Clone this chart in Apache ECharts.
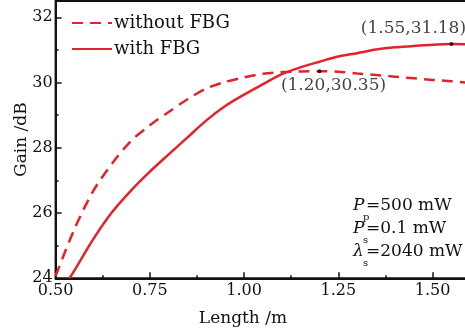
<!DOCTYPE html>
<html>
<head>
<meta charset="utf-8">
<script src="https://cdn.jsdelivr.net/npm/echarts@6/dist/echarts.min.js"></script>
<style>
  html, body { margin: 0; padding: 0; background: #fff; }
  #chart { width: 465px; height: 332px; }
</style>
</head>
<body>
<div id="chart"></div>
<script>
// Fibre length (m) and simulated gain (dB)
const lengthWithout = [0.50, 0.55, 0.60, 0.65, 0.70, 0.75, 0.80, 0.85, 0.90, 0.95, 1.00, 1.05, 1.10, 1.15, 1.20, 1.25, 1.30, 1.35, 1.40, 1.45, 1.50, 1.55, 1.60];
const gainWithout   = [24.07, 25.51, 26.68, 27.52, 28.21, 28.69, 29.10, 29.49, 29.82, 30.02, 30.16, 30.27, 30.32, 30.34, 30.35, 30.33, 30.28, 30.23, 30.18, 30.13, 30.08, 30.04, 29.99];

const lengthWith = [0.537, 0.55, 0.60, 0.65, 0.70, 0.75, 0.80, 0.85, 0.90, 0.95, 1.00, 1.05, 1.10, 1.15, 1.20, 1.25, 1.30, 1.35, 1.40, 1.45, 1.50, 1.55, 1.60];
const gainWith   = [24.00, 24.24, 25.20, 26.03, 26.69, 27.27, 27.80, 28.32, 28.84, 29.28, 29.63, 29.95, 30.26, 30.47, 30.64, 30.80, 30.90, 31.01, 31.08, 31.12, 31.16, 31.18, 31.17];

// Marked optimum points
const peakLength = [1.20, 1.55];
const peakGain   = [30.35, 31.18];

const xTicks = [0.50, 0.75, 1.00, 1.25, 1.50];
const yTicks = [24, 26, 28, 30, 32];

const seriesNames = ['without FBG', 'with FBG'];

const FONT = 'DejaVu Serif';
const RED = '#e3232b';
const INK = '#111';

const pairs = (xs, ys) => xs.map((x, i) => [x, ys[i]]);

// label placement for each marked point: below-right, then above-left
const labelPlacement = [
  { position: 'bottom', offset: [14, -1] },
  { position: 'top', offset: [-38, 0] }
];
const peakItems = peakLength.map((x, i) => ({
  value: [x, peakGain[i]],
  label: Object.assign({
    show: true,
    color: INK,
    fontFamily: FONT,
    fontSize: 17,
    formatter: '(' + x.toFixed(2) + ',' + peakGain[i].toFixed(2) + ')'
  }, labelPlacement[i])
}));

const chart = echarts.init(document.getElementById('chart'), null, { renderer: 'canvas' });

chart.setOption({
  animation: false,
  textStyle: { fontFamily: FONT, color: INK },
  grid: {
    left: 55.6, top: 1, width: 414.7, height: 277.3,
    outerBoundsMode: 'none',
    show: true, borderColor: INK, borderWidth: 2
  },
  legend: {
    orient: 'vertical',
    left: 66, top: 9,
    itemWidth: 40, itemHeight: 14, itemGap: 8,
    itemStyle: { opacity: 0 },
    textStyle: { fontFamily: FONT, fontSize: 18, color: INK, padding: [0, 0, 0, -3] },
    data: seriesNames
  },
  xAxis: {
    type: 'value',
    min: xTicks[0], max: 1.60, interval: 0.25,
    name: 'Length /m', nameLocation: 'middle', nameGap: 32,
    nameMoveOverlap: false,
    nameTextStyle: { fontFamily: FONT, fontSize: 17, color: INK, padding: [0, 40, 0, 0] },
    axisLine: { lineStyle: { color: INK, width: 2 } },
    axisTick: { inside: true, length: 6, lineStyle: { color: INK, width: 1.5 } },
    minorTick: { show: true, splitNumber: 2, length: 3, lineStyle: { color: INK, width: 1.5 } },
    splitLine: { show: false },
    axisLabel: {
      margin: 5, fontSize: 16, color: INK, fontFamily: FONT,
      showMaxLabel: false,
      formatter: v => (v <= xTicks[xTicks.length - 1] + 1e-9 ? v.toFixed(2) : '')
    }
  },
  yAxis: {
    type: 'value',
    min: yTicks[0], max: 32.5, interval: 2,
    name: 'Gain /dB', nameLocation: 'middle', nameGap: 26,
    nameMoveOverlap: false,
    nameTextStyle: { fontFamily: FONT, fontSize: 17, color: INK },
    axisLine: { lineStyle: { color: INK, width: 2 } },
    axisTick: { inside: true, length: 6, lineStyle: { color: INK, width: 1.5 } },
    minorTick: { show: true, splitNumber: 2, length: 3, lineStyle: { color: INK, width: 1.5 } },
    splitLine: { show: false },
    axisLabel: {
      margin: 3, fontSize: 16, color: INK, fontFamily: FONT,
      formatter: v => (yTicks.indexOf(v) >= 0 ? String(v) : '')
    }
  },
  series: [
    {
      name: seriesNames[0], type: 'line', smooth: 0.3,
      showSymbol: false, symbol: 'none',
      data: pairs(lengthWithout, gainWithout),
      lineStyle: { color: RED, width: 2.5, type: [11, 7] },
      itemStyle: { color: RED },
      z: 3
    },
    {
      name: seriesNames[1], type: 'line', smooth: 0.3,
      showSymbol: false, symbol: 'none',
      data: pairs(lengthWith, gainWith),
      lineStyle: { color: RED, width: 2.5, type: 'solid' },
      itemStyle: { color: RED },
      z: 3
    },
    {
      name: 'peaks', type: 'scatter',
      symbol: 'circle', symbolSize: 4,
      itemStyle: { color: '#000' },
      data: peakItems,
      z: 5
    }
  ],
  graphic: [
    { type: 'text', left: 353, top: 197, style: { text: 'P', font: 'italic 17px "DejaVu Serif"', fill: INK } },
    { type: 'text', left: 363, top: 212, style: { text: 'p', font: '10px "DejaVu Serif"', fill: INK } },
    { type: 'text', left: 366, top: 197, style: { text: '=500 mW', font: '17px "DejaVu Serif"', fill: INK } },
    { type: 'text', left: 353, top: 220, style: { text: 'P', font: 'italic 17px "DejaVu Serif"', fill: INK } },
    { type: 'text', left: 363, top: 235, style: { text: 's', font: '10px "DejaVu Serif"', fill: INK } },
    { type: 'text', left: 366, top: 220, style: { text: '=0.1 mW', font: '17px "DejaVu Serif"', fill: INK } },
    { type: 'text', left: 353, top: 243, style: { text: 'λ', font: 'italic 17px "DejaVu Serif"', fill: INK } },
    { type: 'text', left: 363, top: 258, style: { text: 's', font: '10px "DejaVu Serif"', fill: INK } },
    { type: 'text', left: 366, top: 243, style: { text: '=2040 mW', font: '17px "DejaVu Serif"', fill: INK } }
  ]
});
</script>
</body>
</html>
